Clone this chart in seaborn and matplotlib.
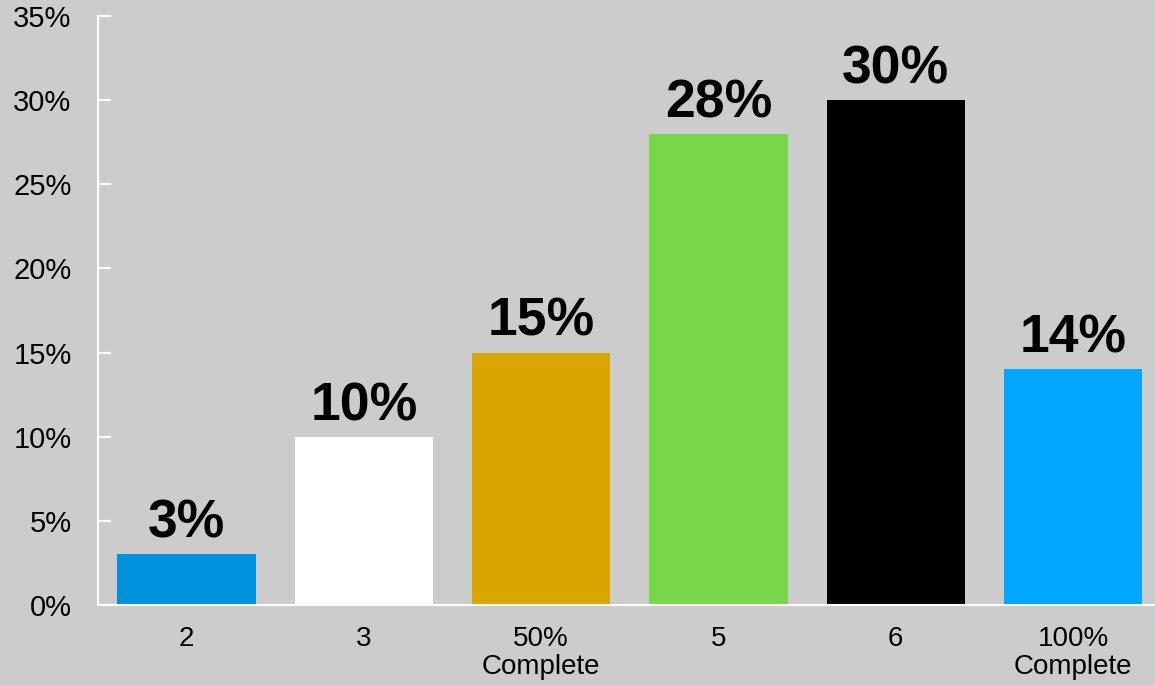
import matplotlib
matplotlib.use("Agg")
import matplotlib.pyplot as plt
from matplotlib.ticker import MultipleLocator, FuncFormatter
import seaborn as sns
import pandas as pd

categories = ["2", "3", "50%\nComplete", "5", "6", "100%\nComplete"]
values = [3, 10, 15, 28, 30, 14]
bar_colors = ["#0093DD", "#FFFFFF", "#D9A600", "#78D64B", "#000000", "#00A6FF"]

sns.set_theme(style="white")
plt.rcParams["font.family"] = ["Liberation Sans", "DejaVu Sans"]

bg = "#CCCCCC"
fig = plt.figure(figsize=(11.55, 6.85), dpi=100, facecolor=bg)
ax = fig.add_axes([0.0848, 0.1168, 0.921, 0.86])
ax.set_facecolor(bg)

df = pd.DataFrame({"cat": categories, "val": values})
sns.barplot(data=df, x="cat", y="val", hue="cat", palette=bar_colors,
            width=0.78, saturation=1, legend=False, ax=ax,
            edgecolor="none", linewidth=0)

ax.set_ylim(0, 35)
ax.set_xlim(-0.5, 5.5)
ax.yaxis.set_major_locator(MultipleLocator(5))
ax.yaxis.set_major_formatter(FuncFormatter(lambda v, p: f"{v:.0f}%"))
ax.set_xlabel("")
ax.set_ylabel("")

for s in ["top", "right"]:
    ax.spines[s].set_visible(False)
for s in ["left", "bottom"]:
    ax.spines[s].set_color("white")
    ax.spines[s].set_linewidth(1.5)

ax.tick_params(axis="y", direction="in", length=9, width=1.5, color="white",
               labelsize=21, labelcolor="black", pad=19, left=True)
ax.tick_params(axis="x", length=0, labelsize=20, labelcolor="black", pad=15)
for lbl in ax.get_xticklabels():
    lbl.set_linespacing(1.12)

for i, v in enumerate(values):
    ax.annotate(f"{v}%", xy=(i, v), xytext=(0, 4), textcoords="offset points",
                ha="center", va="bottom", fontsize=38.5, fontweight="bold", color="black")

fig.savefig("out.png", dpi=100, facecolor=bg)
